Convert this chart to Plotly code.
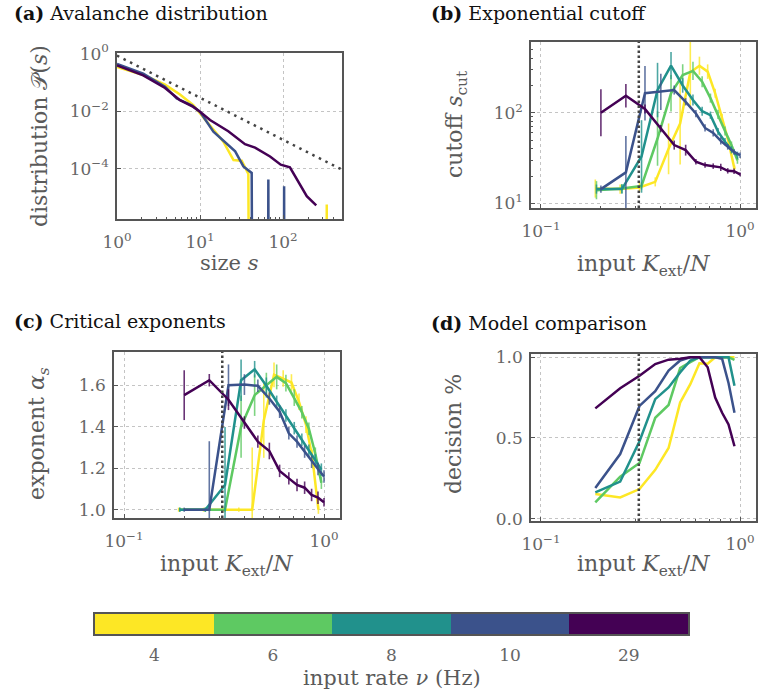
import plotly.graph_objects as go

W, H = 758, 698

# ---------------- data ----------------
rates = [4, 6, 8, 10, 29]
colors = ["#fde725", "#5ec962", "#21918c", "#3b528b", "#440154"]

# (a) avalanche size distributions (1e-12 stands for an empty bin)
s_4 = [1, 2.07, 3.79, 5.74, 8.3, 10, 13.2, 19.1, 25.3, 31.8, 38.2, 39.3, 335, 336, 337]
P_4 = [0.34, 0.18, 0.083, 0.0376, 0.016, 0.0083, 0.0033, 8.7e-4, 2.0e-4, 1.9e-4, 6.6e-5,
       1e-12, 1e-12, 5.7e-6, 1e-12]
s_10 = [1, 2.07, 3.79, 5.24, 7.94, 10, 14.5, 20, 26.5, 33.3, 41.9, 43, 65.5, 66.5, 67.5,
        102, 103, 104]
P_10 = [0.44, 0.2, 0.071, 0.0274, 0.016, 0.0095, 0.00194, 8.3e-4, 4.0e-4, 1.2e-4, 7.1e-5,
        1e-12, 1e-12, 4.2e-5, 1e-12, 1e-12, 2.45e-5, 1e-12]
s_29 = [1, 2.07, 3.79, 5.74, 8.3, 10, 13.2, 21.9, 34.8, 46, 69.7, 93.8, 121, 153, 193, 251]
P_29 = [0.386, 0.174, 0.064, 0.024, 0.014, 0.0095, 0.0049, 0.002, 7.1e-4, 5.4e-4, 2.66e-4,
        1.38e-4, 1.11e-4, 3.6e-5, 1.1e-5, 5.3e-6]
s_guide = [1, 513]
P_guide = [0.85, 9.2e-5]

# input K_ext/N grids
x16 = [0.1875, 0.25, 0.3125, 0.375, 0.4375, 0.5, 0.5625, 0.625, 0.6875, 0.75, 0.8125, 0.875, 0.9375]
xgt = [0.19, 0.255, 0.32, 0.385, 0.45, 0.515, 0.58, 0.645, 0.71, 0.775, 0.84, 0.905, 0.97]
x15 = [0.2, 0.267, 0.333, 0.4, 0.467, 0.533, 0.6, 0.667, 0.733, 0.8, 0.867, 0.933, 1.0]
K_crit = 0.31

# (b) exponential cutoff s_cut, error in decades
cut_4 = [14.6, 14.4, 15, 17.3, 40, 76, 280, 330, 284, 164, 87, 48, 24]
cut_6 = [14, 14.6, 15.6, 52, 164, 260, 289, 220, 145, 96, 63, 44, 30]
cut_8 = [14.4, 14.4, 33, 178, 330, 200, 138, 104, 94, 62, 48, 39, 34]
cut_10 = [14.4, 22, 164, 170, 178, 132, 98, 68, 60, 49, 42, 37, 34]
cut_29 = [100, 154, 110, 67, 44, 38.7, 28.8, 26.5, 25.8, 25, 22.9, 22.7, 20.9]
cut_err_4 = [0.1, 0.05, 0.05, 0.05, 0.28, 0.45, 0.4, 0.1, 0.08, 0.05, 0.05, 0.05, 0.04]
cut_err_6 = [0.1, 0.05, 0.04, 0.3, 0.2, 0.12, 0.1, 0.06, 0.05, 0.05, 0.05, 0.04, 0.04]
cut_err_8 = [0.05, 0.05, 0.4, 0.3, 0.15, 0.08, 0.06, 0.05, 0.04, 0.04, 0.04, 0.04, 0.04]
cut_err_10 = [0.04, 0.4, 0.3, 0.2, 0.05, 0.04, 0.04, 0.04, 0.04, 0.04, 0.03, 0.03, 0.03]
cut_err_29 = [0.26, 0.13, 0.05, 0.04, 0.05, 0.06, 0.03, 0.03, 0.03, 0.04, 0.03, 0.03, 0.02]

# (c) critical exponent alpha_s
exp_4 = [1, 1, 1, 1, 1, 1.43, 1.65, 1.632, 1.613, 1.52, 1.41, 1.25, 1.0]
exp_6 = [1, 1, 1, 1.4, 1.552, 1.6, 1.64, 1.61, 1.54, 1.47, 1.39, 1.27, 1.13]
exp_8 = [1, 1, 1.119, 1.624, 1.677, 1.597, 1.52, 1.454, 1.393, 1.337, 1.284, 1.238, 1.193]
exp_10 = [1, 1, 1.6, 1.603, 1.597, 1.536, 1.472, 1.368, 1.328, 1.28, 1.231, 1.196, 1.16]
exp_29 = [1.552, 1.624, 1.53, 1.42, 1.328, 1.283, 1.187, 1.151, 1.119, 1.106, 1.071, 1.058, 1.036]
exp_err_4 = [0.01, 0.01, 0.01, 0.01, 0.3, 0.18, 0.06, 0.04, 0.04, 0.04, 0.04, 0.04, 0.02]
exp_err_6 = [0.01, 0.01, 0.01, 0.15, 0.1, 0.06, 0.06, 0.04, 0.04, 0.03, 0.03, 0.03, 0.03]
exp_err_8 = [0.01, 0.01, 0.28, 0.1, 0.04, 0.04, 0.03, 0.03, 0.03, 0.03, 0.03, 0.03, 0.03]
exp_err_10 = [0.01, 0.33, 0.1, 0.05, 0.03, 0.03, 0.03, 0.03, 0.03, 0.03, 0.03, 0.03, 0.03]
exp_err_29 = [0.12, 0.03, 0.05, 0.03, 0.03, 0.04, 0.03, 0.03, 0.03, 0.03, 0.03, 0.03, 0.02]

# (d) model comparison decision
dec_4 = [0.152, 0.131, 0.183, 0.302, 0.4375, 0.719, 0.833, 0.9625, 0.96, 1.0, 1.0, 1.0, 1.0]
dec_6 = [0.1, 0.26, 0.344, 0.625, 0.704, 0.933, 0.97, 1.0, 1.0, 1.0, 1.0, 1.0, 0.983]
dec_8 = [0.1625, 0.229, 0.479, 0.74, 0.8125, 0.906, 0.98, 1.0, 1.0, 1.0, 1.0, 1.0, 0.823]
dec_10 = [0.19, 0.40, 0.698, 0.79, 0.917, 0.98, 1.0, 1.0, 1.0, 1.0, 0.99, 0.84, 0.656]
dec_29 = [0.683, 0.808, 0.885, 0.958, 0.985, 0.99, 1.0, 1.0, 0.9375, 0.75, 0.656, 0.583, 0.448]

# ---------------- helpers ----------------
def rgba(hexc, a):
    h = hexc.lstrip("#")
    return "rgba(%d,%d,%d,%.2f)" % (int(h[0:2], 16), int(h[2:4], 16), int(h[4:6], 16), a)

def dom_x(x0, x1):
    return [x0 / W, x1 / W]

def dom_y(y0, y1):  # pixel top, bottom
    return [1 - y1 / H, 1 - y0 / H]

FONT = "DejaVu Serif"
TICKC = "#666666"
LINEC = "#555555"
LW = 2.5

fig = go.Figure()

# (a)
fig.add_trace(go.Scatter(x=s_guide, y=P_guide, mode="lines", xaxis="x", yaxis="y",
                         line=dict(color="#444444", width=2.5, dash="2.5px,4.8px"), showlegend=False))
for s, P, c in [(s_4, P_4, colors[0]), (s_10, P_10, colors[3]), (s_29, P_29, colors[4])]:
    fig.add_trace(go.Scatter(x=s, y=P, mode="lines", xaxis="x", yaxis="y",
                             line=dict(color=c, width=LW), showlegend=False))

# (b)
b_sets = [(x16, cut_4, cut_err_4), (xgt, cut_6, cut_err_6), (xgt, cut_8, cut_err_8),
          (x15, cut_10, cut_err_10), (x15, cut_29, cut_err_29)]
for (xs, ys, es), c in zip(b_sets, colors):
    plus = [y * (10 ** e - 1) for y, e in zip(ys, es)]
    minus = [y * (1 - 10 ** (-e)) for y, e in zip(ys, es)]
    fig.add_trace(go.Scatter(x=xs, y=ys, mode="lines", xaxis="x2", yaxis="y2",
                             line=dict(color=c, width=LW), showlegend=False,
                             error_y=dict(type="data", array=plus, arrayminus=minus, symmetric=False,
                                          color=rgba(c, 0.8), thickness=1.6, width=0)))

# (c)
c_sets = [(x16, exp_4, exp_err_4), (xgt, exp_6, exp_err_6), (xgt, exp_8, exp_err_8),
          (x15, exp_10, exp_err_10), (x15, exp_29, exp_err_29)]
for (xs, ys, es), c in zip(c_sets, colors):
    fig.add_trace(go.Scatter(x=xs, y=ys, mode="lines", xaxis="x3", yaxis="y3",
                             line=dict(color=c, width=LW), showlegend=False,
                             error_y=dict(type="data", array=es, color=rgba(c, 0.8),
                                          thickness=1.6, width=0)))

# (d)
for ys, c in zip([dec_4, dec_6, dec_8, dec_10, dec_29], colors):
    fig.add_trace(go.Scatter(x=x16, y=ys, mode="lines", xaxis="x4", yaxis="y4",
                             line=dict(color=c, width=LW), showlegend=False))

# colour bar as heatmap
cs = []
n = len(colors)
for i, c in enumerate(colors):
    cs.append([i / n, c])
    cs.append([(i + 1) / n, c])
fig.add_trace(go.Heatmap(z=[list(range(n))], x=list(range(n)), y=[0], xaxis="x5", yaxis="y5",
                         colorscale=cs, zmin=-0.5, zmax=n - 0.5, showscale=False, hoverinfo="skip"))

# critical input lines
for xr, yr in [("x2", "y2"), ("x3", "y3"), ("x4", "y4")]:
    fig.add_shape(type="line", xref=xr, yref=yr + " domain", x0=K_crit, x1=K_crit, y0=0, y1=1,
                  line=dict(color="#444444", width=2.5, dash="2.5px,2.5px"))

# ---------------- axes ----------------
base = dict(showline=True, linecolor=LINEC, linewidth=1.5, mirror=True, automargin=False,
            ticks="inside", ticklen=4, tickwidth=1, tickcolor=LINEC,
            showgrid=True, gridcolor="#c4c4c4", griddash="dot", gridwidth=1,
            zeroline=False, tickfont=dict(family=FONT, size=17, color=TICKC))
bx = dict(base, ticklabelstandoff=7)
by = dict(base, ticklabelstandoff=3)

minor_log = dict(ticks="inside", ticklen=2.5, tickwidth=1, tickcolor=LINEC, showgrid=False)
kx_ticks = dict(type="log", range=[-1.05, 0.08], tickmode="array", tickvals=[0.1, 1],
                ticktext=["10<sup>\u22121</sup>", "10<sup>0</sup>"],
                minor=dict(tickmode="array", tickvals=[0.2, 0.3, 0.4, 0.5, 0.6, 0.7, 0.8, 0.9], **minor_log))

dA_x, dA_y = dom_x(117, 342), dom_y(53, 219)
dB_x, dB_y = dom_x(531, 756), dom_y(42, 208)
dC_x, dC_y = dom_x(114, 340), dom_y(352, 518)
dD_x, dD_y = dom_x(531, 756), dom_y(354, 521)
dE_x, dE_y = dom_x(95, 688), dom_y(614, 634)

fig.update_layout(
    template="none",
    width=W, height=H, margin=dict(l=0, r=0, t=0, b=0, pad=0),
    paper_bgcolor="white", plot_bgcolor="white",
    font=dict(family=FONT, color=TICKC),
    xaxis=dict(bx, domain=dA_x, anchor="y", type="log", range=[0, 2.71], tickmode="array",
               tickvals=[1, 10, 100], ticktext=["10<sup>0</sup>", "10<sup>1</sup>", "10<sup>2</sup>"],
               minor=dict(tickmode="array",
                          tickvals=[2, 3, 4, 5, 6, 7, 8, 9, 20, 30, 40, 50, 60, 70, 80, 90, 200, 300, 400, 500],
                          **minor_log)),
    yaxis=dict(by, domain=dA_y, anchor="x", type="log", range=[-5.75, 0.02], tickmode="array",
               tickvals=[1, 1e-2, 1e-4],
               ticktext=["10<sup>0</sup>", "10<sup>\u22122</sup>", "10<sup>\u22124</sup>"]),
    xaxis2=dict(bx, domain=dB_x, anchor="y2", **kx_ticks),
    yaxis2=dict(by, domain=dB_y, anchor="x2", type="log", range=[0.95, 2.78], tickmode="array",
                tickvals=[10, 100], ticktext=["10<sup>1</sup>", "10<sup>2</sup>"],
                minor=dict(tickmode="array",
                           tickvals=[20, 30, 40, 50, 60, 70, 80, 90, 200, 300, 400, 500, 600],
                           **minor_log)),
    xaxis3=dict(bx, domain=dC_x, anchor="y3", **kx_ticks),
    yaxis3=dict(by, domain=dC_y, anchor="x3", range=[0.96, 1.76], tickmode="array",
                tickvals=[1.0, 1.2, 1.4, 1.6], ticktext=["1.0", "1.2", "1.4", "1.6"]),
    xaxis4=dict(bx, domain=dD_x, anchor="y4", **kx_ticks),
    yaxis4=dict(by, domain=dD_y, anchor="x4", range=[-0.015, 1.02], tickmode="array",
                tickvals=[0, 0.5, 1.0], ticktext=["0.0", "0.5", "1.0"]),
    xaxis5=dict(domain=dE_x, anchor="y5", range=[-0.5, n - 0.5], tickmode="array",
                tickvals=list(range(n)), ticktext=[str(r) for r in rates], ticks="",
                showline=True, linecolor=LINEC, linewidth=1.5, mirror=True, showgrid=False,
                zeroline=False, automargin=False, ticklabelstandoff=5,
                tickfont=dict(family=FONT, size=17, color=TICKC)),
    yaxis5=dict(domain=dE_y, anchor="x5", range=[-0.5, 0.5], showticklabels=False, ticks="",
                showline=True, linecolor=LINEC, linewidth=1.5, mirror=True, showgrid=False,
                zeroline=False, automargin=False),
)

# ---------------- text ----------------
def ann(text, X, Y, size, color, angle=0, xanchor="center"):
    fig.add_annotation(text=text, x=X / W, y=1 - Y / H, xref="paper", yref="paper",
                       showarrow=False, textangle=angle, xanchor=xanchor, yanchor="middle",
                       font=dict(family=FONT, size=size, color=color))

TITLEC = "#111111"
LABC = "#5a5a5a"
LS = 22
ann("<b>(a)</b> Avalanche distribution", 12, 13, 19, TITLEC, xanchor="left")
ann("<b>(b)</b> Exponential cutoff", 429, 13, 19, TITLEC, xanchor="left")
ann("<b>(c)</b> Critical exponents", 12, 321, 19, TITLEC, xanchor="left")
ann("<b>(d)</b> Model comparison", 429, 323, 19, TITLEC, xanchor="left")

klabel = "input <i>K</i><sub>ext</sub>/<i>N</i>"
ann("distribution \U0001D4AB(<i>s</i>)", 39, 136, LS, LABC, angle=-90)
ann("size <i>s</i>", 229, 263, 21, LABC)
ann("cutoff <i>s</i><sub>cut</sub>", 457, 124, LS, LABC, angle=-90)
ann(klabel, 643, 265, LS, LABC)
ann("exponent <i>\u03b1</i><sub><i>s</i></sub>", 38, 434, LS, LABC, angle=-90)
ann(klabel, 226, 565, LS, LABC)
ann("decision %", 453, 434, LS, LABC, angle=-90)
ann(klabel, 643, 565, LS, LABC)
ann("input rate <i>\u03bd</i> (Hz)", 392, 678, 21, LABC)

fig.write_html("out.html")
